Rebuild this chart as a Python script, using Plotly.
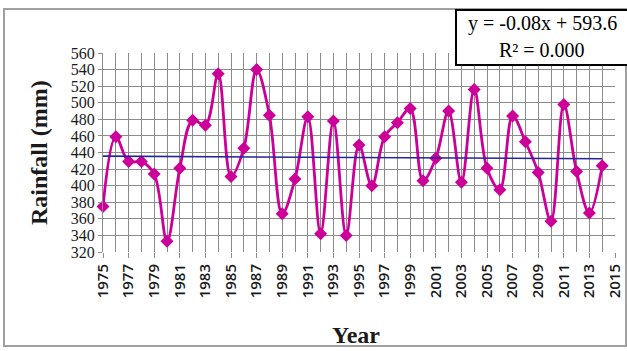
import plotly.graph_objects as go

years = list(range(1975, 2015))
rainfall = [375, 459, 429, 429, 414, 333, 421, 479, 473, 535,
            411, 445, 540, 485, 366, 408, 483, 342, 478, 340,
            449, 400, 459, 476, 493, 406, 433, 490, 404, 516,
            421, 395, 484, 453, 416, 357, 498, 417, 367, 424]
trend_slope = -0.08
trend_intercept = 593.6
r_squared = 0.000
trend = [trend_slope * y + trend_intercept for y in years]

W, H = 627, 351
L, R, T, B = 103, 615, 53, 252  # plot area pixel bounds

def px(x):
    return (x - L) / (R - L)

def py(y):
    return (B - y) / (B - T)

fig = go.Figure()
fig.add_trace(go.Scatter(
    x=years, y=rainfall, mode="lines+markers",
    line=dict(color="#CC0099", width=2.8, shape="spline", smoothing=1.0),
    marker=dict(symbol="diamond", size=10, color="#CC0099"),
    showlegend=False, cliponaxis=False))
fig.add_trace(go.Scatter(
    x=years, y=trend, mode="lines",
    line=dict(color="#262699", width=1.6),
    showlegend=False))

fig.update_layout(
    width=W, height=H,
    margin=dict(l=L, r=W - R, t=T, b=H - B, autoexpand=False),
    paper_bgcolor="white", plot_bgcolor="white",
    xaxis=dict(range=[1975, 2015], tick0=1975, dtick=2, automargin=False,
               tickangle=-90, showgrid=True, gridcolor="#8c8c8c", gridwidth=1,
               minor=dict(dtick=1, tick0=1975, showgrid=True, gridcolor="#8c8c8c", gridwidth=1),
               ticks="outside", ticklen=5, tickcolor="#8c8c8c",
               showline=False, zeroline=False,
               tickfont=dict(family="Open Sans", size=15, color="#1a1a1a", weight=600)),
    yaxis=dict(range=[320, 560], dtick=20, showgrid=True, gridcolor="#8c8c8c", gridwidth=1,
               automargin=False,
               ticks="outside", ticklen=4, tickcolor="#8c8c8c",
               showline=True, linecolor="#8c8c8c", zeroline=False,
               tickfont=dict(family="Liberation Serif", size=16, color="#1a1a1a")),
    shapes=[
        dict(type="rect", xref="paper", yref="paper",
             x0=px(4), x1=px(626), y0=py(346), y1=py(9),
             line=dict(color="#a0a0a0", width=2), fillcolor="rgba(0,0,0,0)", layer="below"),
        dict(type="rect", xref="paper", yref="paper",
             x0=px(456), x1=px(640), y0=py(65), y1=py(10),
             line=dict(color="black", width=2), fillcolor="white", layer="above"),
    ],
    annotations=[
        dict(text="y = -0.08x + 593.6", xref="paper", yref="paper",
             x=px(542), y=py(23), xanchor="center", yanchor="middle", showarrow=False,
             font=dict(family="Liberation Serif", size=20, color="black")),
        dict(text=f"R² = {r_squared:.3f}", xref="paper", yref="paper",
             x=px(542), y=py(50), xanchor="center", yanchor="middle", showarrow=False,
             font=dict(family="Liberation Serif", size=20, color="black")),
        dict(text="<b>Rainfall (mm)</b>", xref="paper", yref="paper",
             x=px(39), y=py(153), xanchor="center", yanchor="middle",
             textangle=-90, showarrow=False,
             font=dict(family="Liberation Serif", size=24, color="#1a1a1a")),
        dict(text="<b>Year</b>", xref="paper", yref="paper",
             x=px(356), y=py(335), xanchor="center", yanchor="middle", showarrow=False,
             font=dict(family="Liberation Serif", size=24, color="#1a1a1a")),
    ],
)

fig.write_html("out.html", config={"displayModeBar": False},
               post_script="document.body.style.margin='0';")
